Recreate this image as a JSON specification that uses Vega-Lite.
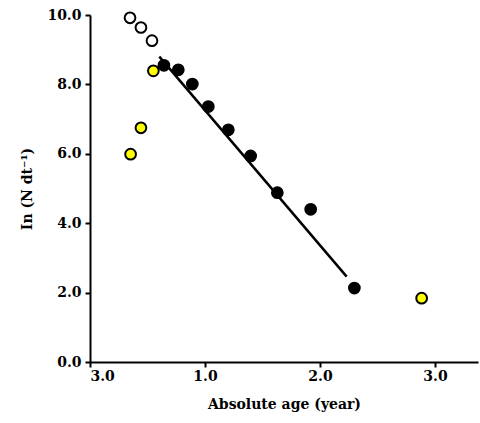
{
  "$schema": "https://vega.github.io/schema/vega-lite/v6.json",
  "width": 388,
  "height": 347,
  "autosize": {"type": "none"},
  "padding": {"left": 90, "top": 15, "right": 2, "bottom": 61},
  "background": "white",
  "config": {
    "view": {"stroke": null},
    "axis": {
      "grid": false,
      "domainColor": "black",
      "domainWidth": 2,
      "tickColor": "black",
      "tickWidth": 2,
      "tickSize": 5,
      "labelFont": "DejaVu Serif, Liberation Serif, serif",
      "labelFontWeight": "bold",
      "labelFontSize": 14,
      "labelColor": "black",
      "titleFont": "DejaVu Serif, Liberation Serif, serif",
      "titleFontWeight": "bold",
      "titleFontSize": 14,
      "titleColor": "black"
    }
  },
  "datasets": {
    "pts": [
      {"age": 0.348, "lnN": 9.92, "group": "open"},
      {"age": 0.443, "lnN": 9.64, "group": "open"},
      {"age": 0.539, "lnN": 9.26, "group": "open"},
      {"age": 0.551, "lnN": 8.39, "group": "yellow"},
      {"age": 0.443, "lnN": 6.75, "group": "yellow"},
      {"age": 0.353, "lnN": 5.99, "group": "yellow"},
      {"age": 2.884, "lnN": 1.84, "group": "yellow"},
      {"age": 0.643, "lnN": 8.55, "group": "black"},
      {"age": 0.768, "lnN": 8.42, "group": "black"},
      {"age": 0.890, "lnN": 8.01, "group": "black"},
      {"age": 1.029, "lnN": 7.36, "group": "black"},
      {"age": 1.203, "lnN": 6.69, "group": "black"},
      {"age": 1.397, "lnN": 5.94, "group": "black"},
      {"age": 1.629, "lnN": 4.88, "group": "black"},
      {"age": 1.919, "lnN": 4.40, "group": "black"},
      {"age": 2.299, "lnN": 2.13, "group": "black"}
    ],
    "fit": [
      {"age": 0.603, "lnN": 8.80},
      {"age": 2.232, "lnN": 2.46}
    ]
  },
  "layer": [
    {
      "data": {"name": "fit"},
      "mark": {"type": "line", "color": "black", "strokeWidth": 2.5},
      "encoding": {
        "x": {
          "field": "age", "type": "quantitative",
          "scale": {"domain": [0, 3.374], "nice": false, "zero": false},
          "axis": {
            "values": [0, 1, 2, 3],
            "labelExpr": "datum.value == 0 ? '3.0' : format(datum.value, '.1f')",
            "title": "Absolute age (year)",
            "titlePadding": 14,
            "labelPadding": 2
          }
        },
        "y": {
          "field": "lnN", "type": "quantitative",
          "scale": {"domain": [0, 10], "nice": false},
          "axis": {
            "values": [0, 2, 4, 6, 8, 10],
            "format": ".1f",
            "title": "In (N dt⁻¹)",
            "titlePadding": 12,
            "labelPadding": 4
          }
        }
      }
    },
    {
      "data": {"name": "pts"},
      "mark": {"type": "point", "shape": "circle", "filled": true, "stroke": "black", "strokeWidth": 2, "opacity": 1, "size": 115},
      "encoding": {
        "x": {"field": "age", "type": "quantitative"},
        "y": {"field": "lnN", "type": "quantitative"},
        "fill": {
          "field": "group", "type": "nominal",
          "scale": {"domain": ["open", "yellow", "black"], "range": ["white", "#ffff00", "black"]},
          "legend": null
        }
      }
    }
  ]
}
